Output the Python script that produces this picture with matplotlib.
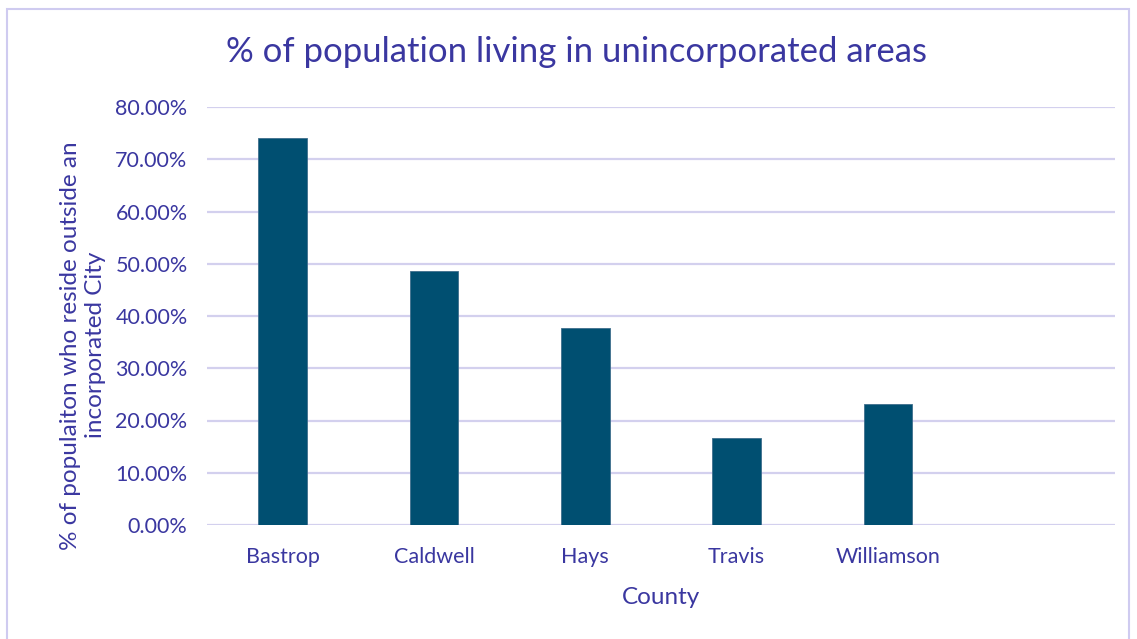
import matplotlib.pyplot as plt
from matplotlib.patches import Rectangle
from matplotlib.ticker import FuncFormatter

# county shares (fraction of population outside incorporated cities)
counties = ['Bastrop', 'Caldwell', 'Hays', 'Travis', 'Williamson', '']
shares = [0.7405, 0.486, 0.377, 0.1665, 0.2315, 0]
yticks = [0, 0.1, 0.2, 0.3, 0.4, 0.5, 0.6, 0.7, 0.8]

txt = '#3A37A0'
grid = '#D3D0EE'
bar_col = '#004F71'

plt.rcParams['font.family'] = ['Lato', 'DejaVu Sans']

fig = plt.figure(figsize=(11.37, 6.39), dpi=100)
ax = fig.add_axes([207 / 1137, 1 - 525 / 639, 908 / 1137, 418 / 639])

x = list(range(len(counties)))
ax.bar(x[:5], shares[:5], width=0.32, color=bar_col, edgecolor='#3F6E8C', linewidth=0.6, zorder=3)
ax.set_xlim(-0.5, 5.5)
ax.set_ylim(0, 0.8)
ax.set_xticks(x)
ax.set_xticklabels(counties)
ax.set_yticks(yticks)
ax.yaxis.set_major_formatter(FuncFormatter(lambda v, p: '{:.2f}%'.format(v * 100)))
ax.grid(axis='y', color=grid, linewidth=1.6, zorder=0)
for s in ax.spines.values():
    s.set_visible(False)
ax.tick_params(axis='y', length=0, labelsize=15.5, colors=txt, pad=14)
ax.tick_params(axis='x', length=0, labelsize=15.5, colors=txt, pad=16)

ax.set_xlabel('County', fontsize=17.5, color=txt, labelpad=14)
ax.set_ylabel('% of populaiton who reside outside an\nincorporated City', fontsize=17.5,
              color=txt, labelpad=7, linespacing=1.2)
ax.yaxis.label.set_y(0.43)
fig.suptitle('% of population living in unincorporated areas', fontsize=25, color=txt,
             x=576 / 1137, y=1 - 52 / 639, va='center')

# chart frame
fig.patches.append(Rectangle((7 / 1137, -0.01), 1122 / 1137, 1 - 9 / 639 + 0.01,
                             transform=fig.transFigure, fill=False,
                             edgecolor='#CFCBF0', linewidth=1.5))

fig.savefig('out.png', dpi=100)
